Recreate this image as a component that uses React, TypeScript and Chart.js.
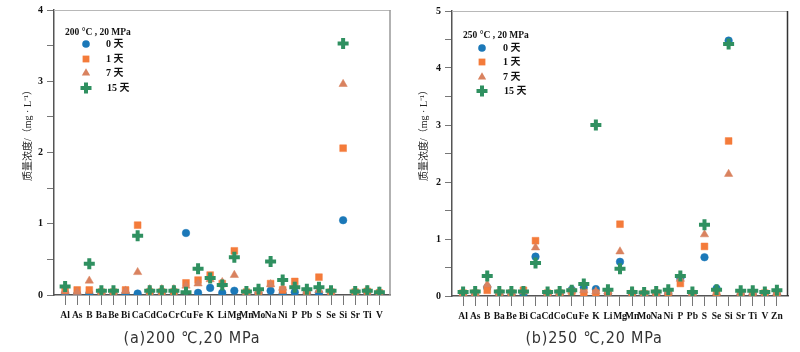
import React, { useEffect, useRef } from 'react';
import { Chart, registerables } from 'chart.js';
Chart.register(...registerables);

// ---- (a) 200 °C, 20 MPa ----
const catsA = ['Al', 'As', 'B', 'Ba', 'Be', 'Bi', 'Ca', 'Cd', 'Co', 'Cr', 'Cu', 'Fe', 'K', 'Li', 'Mg', 'Mn', 'Mo', 'Na', 'Ni', 'P', 'Pb', 'S', 'Se', 'Si', 'Sr', 'Ti', 'V'];
const a0 = [0.02, 0.01, 0.02, 0.01, 0.01, 0.02, 0.02, 0.02, 0.02, 0.02, 0.87, 0.03, 0.10, 0.03, 0.06, 0.01, 0.02, 0.06, 0.02, 0.04, 0.02, 0.03, 0.01, 1.05, 0.01, 0.01, 0.01];
const a1 = [0.06, 0.07, 0.07, 0.04, 0.04, 0.07, 0.98, 0.04, 0.04, 0.04, 0.17, 0.21, 0.28, 0.16, 0.62, 0.04, 0.04, 0.16, 0.07, 0.19, 0.05, 0.25, 0.04, 2.06, 0.04, 0.05, 0.03];
const a7 = [0.06, 0.04, 0.20, 0.05, 0.05, 0.06, 0.32, 0.08, 0.08, 0.08, 0.13, 0.16, 0.22, 0.18, 0.28, 0.04, 0.06, 0.15, 0.10, 0.14, 0.06, 0.07, 0.05, 2.96, 0.05, 0.07, 0.05];
const a15 = [0.12, null, 0.44, 0.06, 0.06, null, 0.83, 0.06, 0.06, 0.06, 0.04, 0.37, 0.24, 0.14, 0.53, 0.05, 0.08, 0.47, 0.21, 0.11, 0.08, 0.11, 0.06, 3.53, 0.05, 0.06, 0.04];
const yTicksA = [0, 1, 2, 3, 4];

// ---- (b) 250 °C, 20 MPa ----
const catsB = ['Al', 'As', 'B', 'Ba', 'Be', 'Bi', 'Ca', 'Cd', 'Co', 'Cu', 'Fe', 'K', 'Li', 'Mg', 'Mn', 'Mo', 'Na', 'Ni', 'P', 'Pb', 'S', 'Se', 'Si', 'Sr', 'Ti', 'V', 'Zn'];
const b0 = [0.04, 0.03, 0.15, 0.03, 0.03, 0.04, 0.69, 0.03, 0.04, 0.11, 0.15, 0.12, 0.04, 0.60, 0.03, 0.03, 0.04, 0.05, 0.31, 0.03, 0.68, 0.13, 4.48, 0.03, 0.03, 0.03, 0.03];
const b1 = [0.05, 0.05, 0.10, 0.05, 0.05, 0.10, 0.97, 0.05, 0.05, 0.08, 0.06, 0.05, 0.07, 1.26, 0.04, 0.04, 0.05, 0.06, 0.22, 0.04, 0.87, 0.03, 2.72, 0.05, 0.05, 0.05, 0.05];
const b7 = [0.05, 0.05, 0.20, 0.06, 0.06, 0.08, 0.85, 0.06, 0.06, 0.09, 0.10, 0.08, 0.08, 0.78, 0.08, 0.05, 0.06, 0.07, 0.30, 0.05, 1.08, 0.06, 2.14, 0.06, 0.06, 0.07, 0.06];
const b15 = [0.07, 0.08, 0.35, 0.08, 0.08, 0.08, 0.58, 0.07, 0.08, 0.10, 0.21, 3.00, 0.11, 0.48, 0.07, 0.06, 0.08, 0.11, 0.35, 0.07, 1.25, 0.11, 4.42, 0.09, 0.09, 0.07, 0.10];
const yTicksB = [0, 1, 2, 3, 4, 5];

const seriesNames = ['0 天', '1 天', '7 天', '15 天'];
const seriesColors = ['#1b78b8', '#f47b3a', '#d9825f', '#2f9060'];
const seriesStyles = ['circle', 'rect', 'triangle', 'cross'];
const seriesRadius = [3.8, 4.8, 4.8, 5.5];
const seriesBorder = [0.5, 0.5, 0.5, 4];

const yTitle = '质量浓度/（mg · L⁻¹）';
const SERIF = '"Liberation Serif", "Noto Sans CJK SC", serif';

function drawMarker(ctx: CanvasRenderingContext2D, idx: number, x: number, y: number) {
  const c = seriesColors[idx];
  const r = seriesRadius[idx];
  ctx.save();
  ctx.fillStyle = c;
  ctx.strokeStyle = c;
  ctx.beginPath();
  if (idx === 0) {
    ctx.arc(x, y, r, 0, Math.PI * 2);
    ctx.fill();
  } else if (idx === 1) {
    const s = Math.SQRT1_2 * r;
    ctx.rect(x - s, y - s, 2 * s, 2 * s);
    ctx.fill();
  } else if (idx === 2) {
    ctx.moveTo(x, y - r);
    ctx.lineTo(x + Math.sin((2 * Math.PI) / 3) * r, y - Math.cos((2 * Math.PI) / 3) * r);
    ctx.lineTo(x + Math.sin((4 * Math.PI) / 3) * r, y - Math.cos((4 * Math.PI) / 3) * r);
    ctx.closePath();
    ctx.fill();
  } else {
    ctx.lineWidth = seriesBorder[3];
    ctx.moveTo(x - r, y);
    ctx.lineTo(x + r, y);
    ctx.moveTo(x, y - r);
    ctx.lineTo(x, y + r);
    ctx.stroke();
  }
  ctx.restore();
}

type Layout = {
  yWidth: number;
  padRight: number;
  padTop: number;
  xHeight: number;
  titleX: number;
  titleY: number;
  legTitleX: number;
  legTitleY: number;
  legMarkX: number;
  legTextX: number;
  legRows: number[];
  rightBorder: string;
};

function ChartPanel(props: {
  cats: string[];
  series: (number | null)[][];
  yTicks: number[];
  legendTitle: string;
  layout: Layout;
  left: number;
}) {
  const ref = useRef<HTMLCanvasElement | null>(null);
  useEffect(() => {
    const { cats, series, yTicks, legendTitle, layout } = props;
    const canvas = ref.current!;
    const yMax = yTicks[yTicks.length - 1];
    const datasets = series.map((vals, si) => ({
      label: seriesNames[si],
      data: vals
        .map((v, i) => (v == null ? null : { x: i, y: v }))
        .filter((p) => p !== null),
      pointStyle: seriesStyles[si],
      pointRadius: seriesRadius[si],
      pointHoverRadius: seriesRadius[si],
      backgroundColor: seriesColors[si],
      borderColor: seriesColors[si],
      borderWidth: seriesBorder[si],
      showLine: false,
      order: 4 - si,
    }));

    const deco = {
      id: 'deco',
      afterDraw(chart: any) {
        const ctx: CanvasRenderingContext2D = chart.ctx;
        const a = chart.chartArea;
        ctx.save();
        ctx.lineWidth = 1;
        ctx.strokeStyle = '#b8b8b8';
        ctx.beginPath();
        ctx.moveTo(a.left, a.top + 0.5);
        ctx.lineTo(a.right, a.top + 0.5);
        ctx.stroke();
        ctx.strokeStyle = layout.rightBorder;
        ctx.lineWidth = 1.5;
        ctx.beginPath();
        ctx.moveTo(a.right - 0.5, a.top);
        ctx.lineTo(a.right - 0.5, a.bottom);
        ctx.stroke();
        ctx.translate(layout.titleX, layout.titleY);
        ctx.rotate(-Math.PI / 2);
        ctx.fillStyle = '#222';
        ctx.font = '10px ' + SERIF;
        ctx.textAlign = 'center';
        ctx.textBaseline = 'middle';
        ctx.fillText(yTitle, 0, 0);
        ctx.restore();

        ctx.save();
        ctx.fillStyle = '#111';
        ctx.textBaseline = 'middle';
        ctx.textAlign = 'left';
        ctx.font = 'bold 9.5px ' + SERIF;
        ctx.fillText(legendTitle, layout.legTitleX, layout.legTitleY);
        ctx.font = 'bold 10px ' + SERIF;
        for (let i = 0; i < 4; i++) {
          drawMarker(ctx, i, layout.legMarkX, layout.legRows[i]);
          ctx.fillText(seriesNames[i], layout.legTextX + (i === 3 ? 1 : 0), layout.legRows[i]);
        }
        ctx.restore();
      },
    };

    const chart = new Chart(canvas, {
      type: 'scatter',
      data: { datasets: datasets as any },
      options: {
        animation: false,
        responsive: false,
        events: [],
        layout: { padding: { left: 0, right: layout.padRight, top: layout.padTop, bottom: 0 } },
        plugins: { legend: { display: false }, tooltip: { enabled: false } },
        scales: {
          x: {
            type: 'linear',
            min: -0.92,
            max: cats.length - 1 + 0.92,
            afterBuildTicks: (scale: any) => {
              scale.ticks = cats.map((_, i) => ({ value: i }));
            },
            afterFit: (scale: any) => {
              scale.height = layout.xHeight;
            },
            grid: { drawOnChartArea: false, tickLength: 10, tickColor: '#777', tickWidth: 1 },
            border: { display: true, color: '#555', width: 1.5 },
            ticks: {
              autoSkip: false,
              maxRotation: 0,
              minRotation: 0,
              padding: 5,
              color: '#111',
              font: { family: SERIF, size: 9.5, weight: 'bold' },
              callback: (v: any) => cats[Math.round(Number(v))] ?? '',
            },
          },
          y: {
            type: 'linear',
            min: 0,
            max: yMax,
            afterBuildTicks: (scale: any) => {
              const t: any[] = [];
              for (let v = 0; v <= yMax + 1e-9; v += 0.5) t.push({ value: v });
              scale.ticks = t;
            },
            afterFit: (scale: any) => {
              scale.width = layout.yWidth;
            },
            grid: { drawOnChartArea: false, tickLength: 7, tickColor: '#777', tickWidth: 1 },
            border: { display: true, color: '#555', width: 1.5 },
            ticks: {
              padding: 4,
              color: '#111',
              font: { family: SERIF, size: 10, weight: 'bold' },
              callback: (v: any) => (yTicks.includes(Number(v)) ? String(v) : ''),
            },
          },
        },
      },
      plugins: [deco],
    } as any);
    return () => chart.destroy();
  }, []);
  return (
    <canvas
      ref={ref}
      width={400}
      height={352}
      style={{ position: 'absolute', left: props.left, top: 0, width: 400, height: 352 }}
    />
  );
}

const layoutA: Layout = {
  yWidth: 54,
  padRight: 8,
  padTop: 9,
  xHeight: 57,
  titleX: 28,
  titleY: 133,
  legTitleX: 65,
  legTitleY: 33,
  legMarkX: 86,
  legTextX: 106,
  legRows: [44, 59, 73, 88],
  rightBorder: '#999',
};

const layoutB: Layout = {
  yWidth: 52,
  padRight: 12,
  padTop: 11,
  xHeight: 56,
  titleX: 24,
  titleY: 133,
  legTitleX: 63,
  legTitleY: 36,
  legMarkX: 82,
  legTextX: 103,
  legRows: [48, 62, 77, 91],
  rightBorder: '#333',
};

const captionStyle: React.CSSProperties = {
  position: 'absolute',
  top: 328,
  width: 260,
  textAlign: 'center',
  fontFamily: '"Liberation Sans Narrow", "DejaVu Sans Condensed", "Liberation Sans", sans-serif',
  fontSize: 16,
  letterSpacing: '0.8px',
  fontWeight: 300,
  color: '#333',
  lineHeight: '20px',
  whiteSpace: 'nowrap',
};

export default function App() {
  return (
    <div style={{ position: 'absolute', left: 0, top: 0, width: 800, height: 352, background: '#fff', overflow: 'hidden' }}>
      <ChartPanel cats={catsA} series={[a0, a1, a7, a15]} yTicks={yTicksA} legendTitle="200 °C , 20 MPa" layout={layoutA} left={0} />
      <ChartPanel cats={catsB} series={[b0, b1, b7, b15]} yTicks={yTicksB} legendTitle="250 °C , 20 MPa" layout={layoutB} left={400} />
      <div style={{ ...captionStyle, left: 192 - 130 }}>(a)200 ℃,20 MPa</div>
      <div style={{ ...captionStyle, left: 594 - 130 }}>(b)250 ℃,20 MPa</div>
    </div>
  );
}
